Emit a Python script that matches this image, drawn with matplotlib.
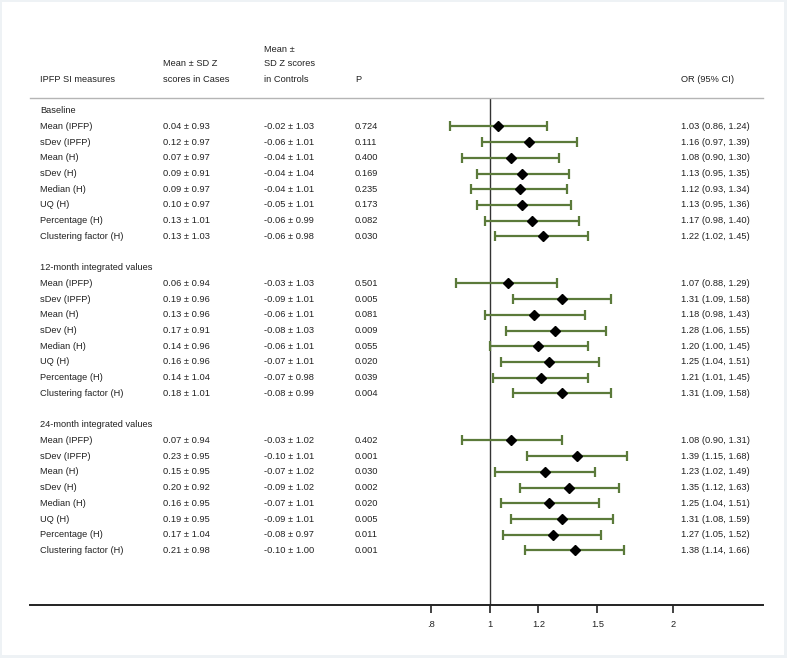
"""IPFP SI measures forest plot (baseline / 12-month / 24-month)."""

import matplotlib
matplotlib.use("Agg")
import matplotlib.pyplot as plt
import matplotlib.transforms as mtransforms
from matplotlib.patches import Rectangle

plt.rcParams["font.family"] = ["Liberation Sans", "DejaVu Sans"]

# ---------------------------------------------------------------------------
# data
# ---------------------------------------------------------------------------
groups = ["Baseline", "12-month integrated values", "24-month integrated values"]
measures = ["Mean (IPFP)", "sDev (IPFP)", "Mean (H)", "sDev (H)",
            "Median (H)", "UQ (H)", "Percentage (H)", "Clustering factor (H)"]

cases = [
    ["0.04 ± 0.93", "0.12 ± 0.97", "0.07 ± 0.97", "0.09 ± 0.91",
     "0.09 ± 0.97", "0.10 ± 0.97", "0.13 ± 1.01", "0.13 ± 1.03"],
    ["0.06 ± 0.94", "0.19 ± 0.96", "0.13 ± 0.96", "0.17 ± 0.91",
     "0.14 ± 0.96", "0.16 ± 0.96", "0.14 ± 1.04", "0.18 ± 1.01"],
    ["0.07 ± 0.94", "0.23 ± 0.95", "0.15 ± 0.95", "0.20 ± 0.92",
     "0.16 ± 0.95", "0.19 ± 0.95", "0.17 ± 1.04", "0.21 ± 0.98"],
]
controls = [
    ["-0.02 ± 1.03", "-0.06 ± 1.01", "-0.04 ± 1.01", "-0.04 ± 1.04",
     "-0.04 ± 1.01", "-0.05 ± 1.01", "-0.06 ± 0.99", "-0.06 ± 0.98"],
    ["-0.03 ± 1.03", "-0.09 ± 1.01", "-0.06 ± 1.01", "-0.08 ± 1.03",
     "-0.06 ± 1.01", "-0.07 ± 1.01", "-0.07 ± 0.98", "-0.08 ± 0.99"],
    ["-0.03 ± 1.02", "-0.10 ± 1.01", "-0.07 ± 1.02", "-0.09 ± 1.02",
     "-0.07 ± 1.01", "-0.09 ± 1.01", "-0.08 ± 0.97", "-0.10 ± 1.00"],
]
pvals = [
    ["0.724", "0.111", "0.400", "0.169", "0.235", "0.173", "0.082", "0.030"],
    ["0.501", "0.005", "0.081", "0.009", "0.055", "0.020", "0.039", "0.004"],
    ["0.402", "0.001", "0.030", "0.002", "0.020", "0.005", "0.011", "0.001"],
]
odds = [
    [1.03, 1.16, 1.08, 1.13, 1.12, 1.13, 1.17, 1.22],
    [1.07, 1.31, 1.18, 1.28, 1.20, 1.25, 1.21, 1.31],
    [1.08, 1.39, 1.23, 1.35, 1.25, 1.31, 1.27, 1.38],
]
ci_low = [
    [0.86, 0.97, 0.90, 0.95, 0.93, 0.95, 0.98, 1.02],
    [0.88, 1.09, 0.98, 1.06, 1.00, 1.04, 1.01, 1.09],
    [0.90, 1.15, 1.02, 1.12, 1.04, 1.08, 1.05, 1.14],
]
ci_high = [
    [1.24, 1.39, 1.30, 1.35, 1.34, 1.36, 1.40, 1.45],
    [1.29, 1.58, 1.43, 1.55, 1.45, 1.51, 1.45, 1.58],
    [1.31, 1.68, 1.49, 1.63, 1.51, 1.59, 1.52, 1.66],
]
xticks = [0.8, 1, 1.2, 1.5, 2]
xticklabels = [".8", "1", "1.2", "1.5", "2"]

# ---------------------------------------------------------------------------
# layout
# ---------------------------------------------------------------------------
W, H = 787, 658
GREEN = "#5b7a3a"
TXT = "#222222"
FS = 6.7

fig = plt.figure(figsize=(W / 100, H / 100), dpi=100)
fig.patch.set_facecolor("#eef2f5")
fig.add_artist(Rectangle((2 / W, 3 / H), 782 / W, 653 / H,
                         transform=fig.transFigure, facecolor="white",
                         edgecolor="none", zorder=0))


def fx(px):
    return px / W


def fy(py):
    return 1 - py / H


ax_top, ax_bot = 98, 605
ax = fig.add_axes([fx(30), fy(ax_bot), fx(763) - fx(30), (ax_bot - ax_top) / H])
ax.set_facecolor("none")
ax.set_xscale("log")
# x range chosen so that 1 sits at ~490px and 2 at ~673px
ax.set_xlim(0.175, 2.81)

row_h = 15.7
y0_px = 110.8
ax.set_ylim((ax_bot - y0_px) / row_h, (ax_top - y0_px) / row_h)

tr = mtransforms.blended_transform_factory(fig.transFigure, ax.transData)
col_label, col_cases, col_ctrl, col_p, col_or = fx(40), fx(163), fx(264), fx(355), fx(681)

row = 0
for g in range(len(groups)):
    ax.text(col_label, row, groups[g], transform=tr, fontsize=FS,
            va="center", ha="left", color=TXT)
    row += 1
    for i, m in enumerate(measures):
        ax.text(col_label, row, m, transform=tr, fontsize=FS,
                va="center", ha="left", color=TXT)
        ax.text(col_cases, row, cases[g][i], transform=tr, fontsize=FS,
                va="center", ha="left", color=TXT)
        ax.text(col_ctrl, row, controls[g][i], transform=tr, fontsize=FS,
                va="center", ha="left", color=TXT)
        ax.text(col_p, row, pvals[g][i], transform=tr, fontsize=FS,
                va="center", ha="left", color=TXT)
        ax.text(col_or, row,
                f"{odds[g][i]:.2f} ({ci_low[g][i]:.2f}, {ci_high[g][i]:.2f})",
                transform=tr, fontsize=FS, va="center", ha="left", color=TXT)
        o = odds[g][i]
        ax.errorbar(o, row,
                    xerr=[[o - ci_low[g][i]], [ci_high[g][i] - o]],
                    fmt="none", ecolor=GREEN, elinewidth=1.6,
                    capsize=3.6, capthick=1.6, zorder=3)
        ax.plot(o, row, marker="D", color="black", markersize=5.4, zorder=4)
        row += 1
    row += 1  # blank line between groups

# reference line at OR = 1
ax.axvline(1, color="#333333", linewidth=1.0, zorder=2)

# header
hdr = dict(fontsize=FS, va="center", ha="left", color=TXT)
fig.text(col_label, fy(80), "IPFP SI measures", **hdr)
fig.text(col_cases, fy(64), "Mean ± SD Z", **hdr)
fig.text(col_cases, fy(80), "scores in Cases", **hdr)
fig.text(col_ctrl, fy(49), "Mean ±", **hdr)
fig.text(col_ctrl, fy(64), "SD Z scores", **hdr)
fig.text(col_ctrl, fy(80), "in Controls", **hdr)
fig.text(col_p, fy(80), "P", **hdr)
fig.text(col_or, fy(80), "OR (95% CI)", **hdr)

# spines / ticks
for s in ("left", "right"):
    ax.spines[s].set_visible(False)
ax.spines["top"].set_color("#b5b5b5")
ax.spines["top"].set_linewidth(1.0)
ax.spines["bottom"].set_color(TXT)
ax.spines["bottom"].set_linewidth(1.4)
ax.set_yticks([])
ax.set_xticks(xticks)
ax.set_xticklabels(xticklabels)
ax.xaxis.set_minor_locator(matplotlib.ticker.NullLocator())
ax.tick_params(axis="x", direction="out", length=6, width=1.2,
               color=TXT, labelsize=FS, labelcolor=TXT, pad=5)

fig.savefig("out.png", dpi=100, facecolor=fig.get_facecolor())
